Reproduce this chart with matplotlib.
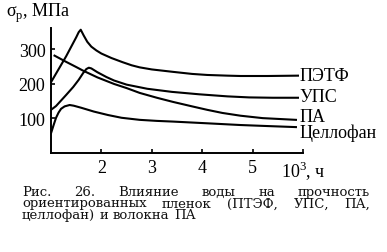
import matplotlib
matplotlib.use("Agg")
import matplotlib.pyplot as plt

plt.rcParams['font.family'] = ['Liberation Serif', 'DejaVu Serif']
plt.rcParams['mathtext.fontset'] = 'custom'
plt.rcParams['mathtext.rm'] = 'Liberation Serif'

# curves (x in 10^3 h, y in MPa)
petf_x = [1.0, 1.3, 1.5, 1.55, 1.59, 1.65, 1.72, 1.8, 1.9, 2.0, 2.2, 2.42, 2.6, 2.76,
          3.0, 3.42, 3.8, 4.1, 4.5, 4.76, 5.3, 5.9]
petf_y = [205, 280, 335, 350, 357, 340, 322, 308, 297, 288, 275, 263, 254, 248,
          242, 235, 229, 226, 224, 223, 223, 224]
ups_x = [1.0, 1.1, 1.2, 1.3, 1.44, 1.55, 1.64, 1.7, 1.75, 1.8, 1.92, 2.1, 2.25, 2.5,
         2.91, 3.4, 3.94, 4.5, 4.93, 5.4, 5.9]
ups_y = [125, 136, 152, 168, 191, 212, 232, 243, 247, 245, 234, 220, 210, 198,
         186, 177, 170, 164, 161, 160, 160]
pa_x = [1.07, 1.3, 1.5, 1.63, 1.92, 2.25, 2.5, 2.76, 3.1, 3.42, 3.8, 4.1, 4.4, 4.76,
        5.2, 5.86]
pa_y = [282, 264, 249, 239, 219, 200, 188, 174, 160, 148, 135, 125, 116, 108,
        101, 96]
cell_x = [1.0, 1.05, 1.1, 1.15, 1.2, 1.27, 1.37, 1.45, 1.6, 1.85, 2.13, 2.4, 2.76,
          3.1, 3.42, 4.1, 4.76, 5.3, 5.86]
cell_y = [57, 80, 102, 117, 128, 135, 139, 137, 131, 120, 110, 102, 96,
          93, 91, 86, 81, 78, 75]

names = ["ПЭТФ", "УПС", "ПА", "Целлофан"]
label_y = [224, 164, 106, 60]
xticks = [2, 3, 4, 5, 6]
xticklabels = ["2", "3", "4", "5", "10$^3$, ч"]
yticks = [100, 200, 300]

caption = [
    "Рис. 26. Влияние воды на прочность",
    "ориентированных пленок (ПТЭФ, УПС, ПА,",
    "целлофан) и волокна ПА",
]

W, H = 387, 253
fig = plt.figure(figsize=(W / 100, H / 100), dpi=100)
ax = fig.add_axes([51 / W, 1 - 154 / H, 252 / W, 125 / H])

for xs, ys in [(petf_x, petf_y), (ups_x, ups_y), (pa_x, pa_y), (cell_x, cell_y)]:
    ax.plot(xs, ys, color="black", lw=1.5, solid_joinstyle="round")

ax.set_xlim(1, 6)
ax.set_ylim(0, 362)
for s in ["top", "right"]:
    ax.spines[s].set_visible(False)
for s in ["left", "bottom"]:
    ax.spines[s].set_linewidth(1.4)
ax.set_xticks(xticks)
ax.set_xticklabels(xticklabels)
ax.set_yticks(yticks)
ax.tick_params(direction="in", length=3, width=1.2, labelsize=13, pad=4)

for n, yv in zip(names, label_y):
    ax.text(5.93, yv, n, fontsize=13, va="center", ha="left", clip_on=False)

fig.text(6 / W, 1 - 13 / H, r"σ$_{\rm p}$, МПа", fontsize=13, va="center")

# justified caption
r = fig.canvas.get_renderer()
x0, x1 = 22, 370
baselines = [196, 207.5, 219]
for i, line in enumerate(caption):
    words = line.split()
    ts = [fig.text(0, 1 - baselines[i] / H, w, fontsize=9.5, family="DejaVu Serif",
                   color="#111111", va="baseline") for w in words]
    widths = [t.get_window_extent(renderer=r).width for t in ts]
    if i < len(caption) - 1:
        gap = (x1 - x0 - sum(widths)) / (len(words) - 1)
    else:
        gap = 4.5
    x = x0
    for t, w in zip(ts, widths):
        t.set_x(x / W)
        x += w + gap

fig.savefig("out.png", dpi=100)
